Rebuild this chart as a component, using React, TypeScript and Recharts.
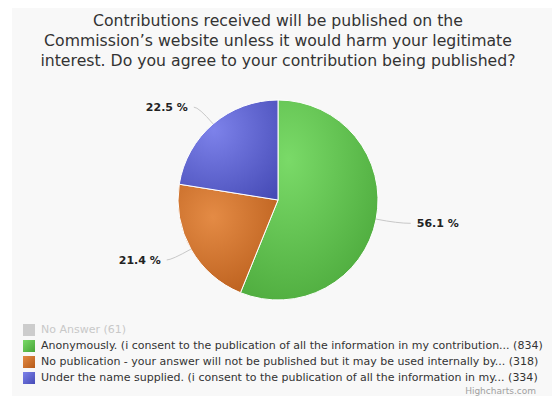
import { PieChart, Pie, Cell, Legend } from "recharts";

const titleLines = [
  "Contributions received will be published on the",
  "Commission\u2019s website unless it would harm your legitimate",
  "interest. Do you agree to your contribution being published?",
];

const legendNames = [
  "No Answer",
  "Anonymously. (i consent to the publication of all the information in my contribution...",
  "No publication - your answer will not be published but it may be used internally by...",
  "Under the name supplied. (i consent to the publication of all the information in my...",
];
const counts = [61, 834, 318, 334];
const visible = [false, true, true, true];
const gradStops = [
  ["#cccccc", "#cccccc"],
  ["#7ada68", "#47a437"],
  ["#e48b45", "#b65a18"],
  ["#7d82ea", "#464bb6"],
];

const FONT = "'DejaVu Sans', Verdana, sans-serif";
const RAD = Math.PI / 180;

const pieData = legendNames
  .map((name, i) => ({ name, value: counts[i], idx: i }))
  .filter((d) => visible[d.idx]);
const visibleTotal = pieData.reduce((s, d) => s + d.value, 0);

function renderLabel(props: any) {
  const { cx, cy, outerRadius, midAngle, value } = props;
  const cos = Math.cos(-midAngle * RAD);
  const sin = Math.sin(-midAngle * RAD);
  const sx = cx + outerRadius * cos;
  const sy = cy + outerRadius * sin;
  const mx = cx + (outerRadius + 22) * cos;
  const my = cy + (outerRadius + 22) * sin;
  const dir = cos >= 0 ? 1 : -1;
  const ex = mx + dir * (dir > 0 ? 13 : 5);
  const pct = ((value / visibleTotal) * 100).toFixed(1);
  return (
    <g>
      <path d={`M${sx},${sy} Q${mx},${my} ${ex},${my}`} stroke="#c8c8c8" strokeWidth={1} fill="none" />
      <text
        x={ex + dir * 6}
        y={my}
        dy={4}
        textAnchor={dir > 0 ? "start" : "end"}
        fontSize={11}
        fontWeight="bold"
        fontFamily={FONT}
        fill="#222"
      >
        {pct} %
      </text>
    </g>
  );
}

function LegendBox() {
  return (
    <div style={{ fontFamily: FONT, fontSize: 11, lineHeight: "16px", whiteSpace: "nowrap" }}>
      {legendNames.map((name, i) => (
        <div key={i} style={{ display: "flex", alignItems: "center", color: visible[i] ? "#333" : "#c8c8c8" }}>
          <span
            style={{
              display: "inline-block",
              flexShrink: 0,
              width: 12,
              height: 12,
              marginRight: 6,
              background: visible[i] ? `linear-gradient(135deg, ${gradStops[i][0]}, ${gradStops[i][1]})` : "#cccccc",
            }}
          />
          <span>
            {name} ({counts[i]})
          </span>
        </div>
      ))}
    </div>
  );
}

export default function App() {
  return (
    <div style={{ position: "absolute", left: 0, top: 0, width: 552, height: 396, background: "#fff", overflow: "hidden" }}>
      <div style={{ position: "absolute", left: 12, top: 8, width: 540, height: 388, background: "#f8f8f8" }} />
      <div
        style={{
          position: "absolute",
          left: 0,
          top: 11,
          width: 556,
          textAlign: "center",
          fontFamily: FONT,
          fontSize: 15.7,
          lineHeight: "20px",
          color: "#333",
        }}
      >
        {titleLines.map((l, i) => (
          <div key={i}>{l}</div>
        ))}
      </div>
      <div style={{ position: "absolute", left: 0, top: 0 }}>
        <PieChart width={552} height={396} margin={{ top: 0, right: 0, bottom: 0, left: 0 }}>
          <defs>
            {gradStops.map((g, i) => (
              <radialGradient key={i} id={`grad${i}`} cx="0.35" cy="0.3" r="0.9">
                <stop offset="0%" stopColor={g[0]} />
                <stop offset="100%" stopColor={g[1]} />
              </radialGradient>
            ))}
          </defs>
          <Pie
            data={pieData}
            dataKey="value"
            nameKey="name"
            cx={278}
            cy={200}
            outerRadius={100}
            startAngle={90}
            endAngle={-270}
            stroke="#ffffff"
            strokeWidth={1}
            label={renderLabel}
            labelLine={false}
            isAnimationActive={false}
          >
            {pieData.map((d) => (
              <Cell key={d.idx} fill={`url(#grad${d.idx})`} />
            ))}
          </Pie>
          <Legend
            content={() => <LegendBox />}
            wrapperStyle={{ position: "absolute", left: 23, top: 322, width: 529, overflow: "hidden" }}
          />
          <text x={536} y={394} textAnchor="end" fontSize={9} fontFamily={FONT} fill="#a0a0a0">
            Highcharts.com
          </text>
        </PieChart>
      </div>
    </div>
  );
}
